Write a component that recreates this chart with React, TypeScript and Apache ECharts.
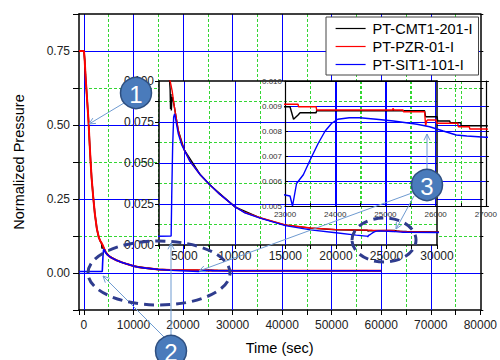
import React, { useEffect, useRef } from 'react';
import * as echarts from 'echarts';

// ---------- data (time in s, normalized pressure) ----------
const cmtT = [-1000, 0, 150, 300, 500, 700, 930, 1100, 1330, 1550, 1850, 2200, 2600, 3000, 3300, 3550, 3600, 3640, 3680, 3720, 3780, 3850, 4000, 4400, 5000, 6560, 7550, 10000, 12500, 15000, 17500, 20000, 23000, 23100, 23170, 23260, 23300, 23620, 23630, 25780, 25800, 26030, 26040, 26280, 26290, 26500, 26510, 27000, 30000, 40000, 60000];
const cmtP = [0.75, 0.75, 0.72, 0.67, 0.62, 0.57, 0.51, 0.45, 0.38, 0.32, 0.26, 0.2, 0.15, 0.12, 0.108, 0.1, 0.095, 0.083, 0.092, 0.082, 0.09, 0.09, 0.085, 0.07, 0.058, 0.043, 0.0366, 0.0233, 0.0165, 0.0121, 0.0103, 0.0093, 0.00897, 0.00897, 0.00847, 0.00864, 0.00873, 0.00873, 0.00881, 0.00881, 0.00857, 0.00857, 0.0084, 0.0084, 0.00833, 0.00833, 0.00821, 0.00821, 0.0079, 0.0078, 0.0078];

const pzrT = [-1000, 0, 150, 300, 500, 700, 930, 1100, 1330, 1550, 1850, 2200, 2600, 3000, 3300, 3600, 3800, 4000, 4400, 4750, 5000, 5570, 6560, 7550, 8500, 10000, 11000, 12500, 15000, 17500, 20000, 23000, 23260, 23270, 23620, 23630, 25140, 25150, 25170, 25350, 25360, 25780, 25800, 25820, 25840, 26010, 26020, 26440, 26450, 26670, 26680, 27000, 30000, 40000, 60000];
const pzrP = [0.75, 0.75, 0.72, 0.67, 0.62, 0.57, 0.51, 0.45, 0.38, 0.32, 0.26, 0.2, 0.15, 0.12, 0.108, 0.1, 0.094, 0.085, 0.07, 0.062, 0.058, 0.051, 0.043, 0.0366, 0.031, 0.0234, 0.0198, 0.0166, 0.0122, 0.0104, 0.0094, 0.00907, 0.00907, 0.00897, 0.00897, 0.00884, 0.00884, 0.0089, 0.00884, 0.00884, 0.00877, 0.00877, 0.0082, 0.0084, 0.00844, 0.00844, 0.00831, 0.00831, 0.00817, 0.00817, 0.00808, 0.00808, 0.0078, 0.0077, 0.0077];

const sitT = [-1000, 3700, 3760, 3850, 3950, 4050, 4400, 4750, 5000, 5570, 6560, 7550, 8500, 10000, 11000, 12500, 15000, 17500, 20000, 22000, 23000, 23100, 23150, 23230, 23365, 23500, 23660, 23800, 23930, 24050, 24280, 24490, 24820, 25160, 25630, 25880, 26150, 26410, 26620, 27000, 30000, 40000, 60000];
const sitP = [0.005, 0.0055, 0.03, 0.06, 0.078, 0.08, 0.068, 0.061, 0.058, 0.051, 0.043, 0.0366, 0.031, 0.0234, 0.0196, 0.0164, 0.0118, 0.0092, 0.0075, 0.006, 0.00544, 0.0054, 0.005, 0.0059, 0.00625, 0.00684, 0.0075, 0.008, 0.00831, 0.00847, 0.00853, 0.00853, 0.00847, 0.0084, 0.00827, 0.00817, 0.008, 0.00784, 0.0078, 0.00775, 0.0076, 0.0075, 0.0075];

const seriesNames = ['PT-CMT1-201-I', 'PT-PZR-01-I', 'PT-SIT1-101-I'];
const seriesColors = ['#000000', '#ff0000', '#0000ff'];

// tick labels
const mainXLabels = [0, 10000, 20000, 30000, 40000, 50000, 60000, 70000, 80000];
const mainYLabels = [0, 0.25, 0.5, 0.75];
const in1XLabels = [5000, 10000, 15000, 20000, 25000, 30000];
const in1YLabels = [0, 0.025, 0.05, 0.075, 0.1];
const in2XLabels = [23000, 24000, 25000, 26000, 27000];
const in2YLabels = [0.005, 0.006, 0.007, 0.008, 0.009, 0.01];

const FONT = 'Liberation Sans, Arial, Helvetica, sans-serif';
const T = 'rgba(0,0,0,0)';
const GREEN = '#33d633';
const BLUE = '#0000ff';

const range = (a: number, b: number, s: number) => {
  const out: number[] = [];
  const n = Math.round((b - a) / s);
  for (let i = 0; i <= n; i++) out.push(+(a + i * s).toFixed(6));
  return out;
};
const isMult = (v: number, m: number) => Math.abs(v / m - Math.round(v / m)) < 1e-6;
const inList = (list: number[], v: number) => list.some((l) => Math.abs(l - v) < 1e-9);
const colorsFor = (ticks: number[], pred: (v: number) => boolean, c: string) => ticks.map((v) => (pred(v) ? c : T));

const mainXTicks = [-1000, ...range(0, 80000, 5000)];
const mainYTicks = range(-0.125, 0.875, 0.125);
const in1XTicks = range(2500, 30000, 2500);
const in1YTicks = range(0, 0.1, 0.0125);
const in2XTicks = range(23000, 27000, 500);
const in2YTicks = range(0.005, 0.01, 0.001);

const zip = (t: number[], p: number[]) => t.map((x, i) => [x, p[i]]);
const seriesData = [zip(cmtT, cmtP), zip(pzrT, pzrP), zip(sitT, sitP)];

const black = { color: '#000', width: 1.5 };
const noLine = { show: false };

function buildOption() {
  const xAxis: any[] = [
    // main
    {
      type: 'value', gridIndex: 0, position: 'bottom', min: -1000, max: 80000, splitNumber: 16, z: 0,
      axisLine: { show: true, onZero: false, lineStyle: black },
      axisTick: { show: true, length: 5, lineStyle: { color: '#000' } },
      axisLabel: { margin: 9, fontSize: 12, color: '#222', fontFamily: FONT, formatter: (v: number) => (inList(mainXLabels, v) ? String(v) : '') },
      splitLine: { show: true, lineStyle: { color: colorsFor(mainXTicks, (v) => v > 0 && !isMult(v, 10000), GREEN), type: [3, 2], width: 1 } },
      name: 'Time (sec)', nameLocation: 'middle', nameGap: 30,
      nameTextStyle: { fontSize: 14.5, color: '#000', fontFamily: FONT },
    },
    {
      type: 'value', gridIndex: 0, position: 'top', min: -1000, max: 80000, splitNumber: 16, z: 1,
      axisLine: { show: true, onZero: false, lineStyle: black },
      axisTick: { show: false }, axisLabel: { show: false },
      splitLine: { show: true, lineStyle: { color: colorsFor(mainXTicks, (v) => v >= 0 && v < 80000 && isMult(v, 10000), BLUE), width: 1 } },
    },
    // inset 1
    {
      type: 'value', gridIndex: 1, position: 'bottom', min: 2500, max: 30000, interval: 2500, z: 4,
      axisLine: { show: true, onZero: false, lineStyle: black },
      axisTick: { show: true, length: 4, lineStyle: { color: '#000' } },
      axisLabel: { margin: 5, fontSize: 12, color: '#222', fontFamily: FONT, formatter: (v: number) => (inList(in1XLabels, v) ? String(v) : '') },
      splitLine: { show: true, lineStyle: { color: colorsFor(in1XTicks, (v) => v > 2500 && !isMult(v, 5000), GREEN), type: [3, 2], width: 1 } },
    },
    {
      type: 'value', gridIndex: 1, position: 'top', min: 2500, max: 30000, interval: 2500, z: 5,
      axisLine: { show: true, onZero: false, lineStyle: black },
      axisTick: { show: false }, axisLabel: { show: false },
      splitLine: { show: true, lineStyle: { color: colorsFor(in1XTicks, (v) => v < 30000 && isMult(v, 5000), BLUE), width: 1 } },
    },
    // inset 2
    {
      type: 'value', gridIndex: 2, position: 'bottom', min: 23000, max: 27000, interval: 500, z: 7,
      axisLine: { show: true, onZero: false, lineStyle: { color: '#000', width: 1.2 } },
      axisTick: { show: true, inside: true, length: 3, lineStyle: { color: '#000' } },
      axisLabel: { margin: 4, fontSize: 8, color: '#333', fontFamily: FONT, formatter: (v: number) => (inList(in2XLabels, v) ? String(v) : '') },
      splitLine: { show: true, lineStyle: { color: colorsFor(in2XTicks, (v) => !isMult(v, 1000), GREEN), type: [3, 2], width: 1 } },
    },
    {
      type: 'value', gridIndex: 2, position: 'top', min: 23000, max: 27000, interval: 500, z: 8,
      axisLine: { show: true, onZero: false, lineStyle: { color: '#000', width: 1.2 } },
      axisTick: { show: false }, axisLabel: { show: false },
      splitLine: { show: true, lineStyle: { color: colorsFor(in2XTicks, (v) => v > 23000 && v < 27000 && isMult(v, 1000), BLUE), width: 1 } },
    },
  ];

  const yAxis: any[] = [
    {
      type: 'value', gridIndex: 0, position: 'left', min: -0.125, max: 0.875, interval: 0.125, z: 0,
      axisLine: { show: true, onZero: false, lineStyle: black },
      axisTick: { show: true, length: 6, lineStyle: { color: '#000' } },
      axisLabel: { margin: 9, fontSize: 12, color: '#222', fontFamily: FONT, formatter: (v: number) => (inList(mainYLabels, v) ? v.toFixed(2) : '') },
      splitLine: { show: true, lineStyle: { color: colorsFor(mainYTicks, (v) => v > -0.1 && v < 0.8 && !isMult(v, 0.25), GREEN), type: [3, 2], width: 1 } },
      name: 'Normalized Pressure', nameLocation: 'middle', nameGap: 53,
      nameTextStyle: { fontSize: 14.5, color: '#000', fontFamily: FONT },
    },
    {
      type: 'value', gridIndex: 0, position: 'right', min: -0.125, max: 0.875, interval: 0.125, z: 1,
      axisLine: { show: true, onZero: false, lineStyle: black },
      axisTick: { show: true, length: 3, lineStyle: { color: '#000' } }, axisLabel: { show: false },
      splitLine: { show: true, lineStyle: { color: colorsFor(mainYTicks, (v) => isMult(v, 0.25), BLUE), width: 1 } },
    },
    {
      type: 'value', gridIndex: 1, position: 'left', min: 0, max: 0.1, interval: 0.0125, z: 4,
      axisLine: { show: true, onZero: false, lineStyle: black },
      axisTick: { show: true, length: 4, lineStyle: { color: '#000' } },
      axisLabel: { margin: 5, fontSize: 12, color: '#222', fontFamily: FONT, formatter: (v: number) => (inList(in1YLabels, +v.toFixed(6)) ? v.toFixed(3) : '') },
      splitLine: { show: true, lineStyle: { color: colorsFor(in1YTicks, (v) => !isMult(v, 0.025), GREEN), type: [3, 2], width: 1 } },
    },
    {
      type: 'value', gridIndex: 1, position: 'right', min: 0, max: 0.1, interval: 0.0125, z: 5,
      axisLine: { show: true, onZero: false, lineStyle: black },
      axisTick: { show: false }, axisLabel: { show: false },
      splitLine: { show: true, lineStyle: { color: colorsFor(in1YTicks, (v) => v > 0.001 && v < 0.099 && isMult(v, 0.025), BLUE), width: 1 } },
    },
    {
      type: 'value', gridIndex: 2, position: 'left', min: 0.005, max: 0.01, interval: 0.001, z: 8,
      axisLine: { show: true, onZero: false, lineStyle: { color: '#000', width: 1.2 } },
      axisTick: { show: true, inside: true, length: 3, lineStyle: { color: '#000' } },
      axisLabel: { margin: 3, fontSize: 8, color: '#333', fontFamily: FONT, formatter: (v: number) => (inList(in2YLabels, +v.toFixed(6)) ? v.toFixed(3) : '') },
      splitLine: { show: true, lineStyle: { color: colorsFor(in2YTicks, (v) => v > 0.0051 && v < 0.0099, BLUE), width: 1 } },
    },
    {
      type: 'value', gridIndex: 2, position: 'right', min: 0.005, max: 0.01, interval: 0.001, z: 8,
      axisLine: { show: true, onZero: false, lineStyle: { color: '#000', width: 1.2 } },
      axisTick: { show: true, length: 3, lineStyle: { color: '#000' } }, axisLabel: { show: false },
      splitLine: noLine,
    },
  ];

  const seriesZ = [2, 6, 9];
  const widths = [1.6, 1.4, 1.4];
  const series: any[] = [];
  for (let g = 0; g < 3; g++) {
    for (let s = 0; s < 3; s++) {
      series.push({
        type: 'line', name: seriesNames[s], data: seriesData[s],
        xAxisIndex: g * 2, yAxisIndex: g * 2, symbol: 'none', showSymbol: false,
        lineStyle: { color: seriesColors[s], width: g === 0 && s === 1 ? 2 : widths[g] },
        itemStyle: { color: seriesColors[s] },
        z: seriesZ[g], clip: true, silent: true,
      });
    }
  }

  const ARROW = '#6f9bd1';
  const arrow = (x1: number, y1: number, x2: number, y2: number) => {
    const ang = Math.atan2(y2 - y1, x2 - x1);
    const L = 7, a = 0.45;
    const p1 = [x2 - L * Math.cos(ang - a), y2 - L * Math.sin(ang - a)];
    const p2 = [x2 - L * Math.cos(ang + a), y2 - L * Math.sin(ang + a)];
    return [
      { type: 'line', z: 11, silent: true, shape: { x1, y1, x2, y2 }, style: { stroke: ARROW, lineWidth: 1 } },
      { type: 'polyline', z: 11, silent: true, shape: { points: [p1, [x2, y2], p2] }, style: { stroke: ARROW, fill: 'none', lineWidth: 1 } },
    ];
  };
  const badge = (cx: number, cy: number, label: string) => [
    { type: 'circle', z: 13, silent: true, shape: { cx, cy, r: 15.5 }, style: { fill: '#4a7bbb', stroke: '#2e4f80', lineWidth: 1.5 } },
    {
      type: 'text', z: 14, silent: true, x: cx, y: cy + 1,
      style: { text: label, fill: '#ffffff', fontSize: 24, fontFamily: FONT, align: 'center', verticalAlign: 'middle', textAlign: 'center', textVerticalAlign: 'middle' },
    },
  ];
  const ell = (cx: number, cy: number, rx: number, ry: number) => ({
    type: 'ellipse', z: 12, silent: true, shape: { cx, cy, rx, ry },
    style: { fill: 'none', stroke: '#2f3c8e', lineWidth: 3, lineDash: [10, 6] },
  });

  const graphic = [
    ell(159, 273, 71, 32),
    ell(384, 240, 32, 22),
    ...arrow(124, 103, 89, 124),
    ...arrow(164, 337, 103, 276),
    ...arrow(171, 335, 171, 243),
    ...arrow(427, 169, 427, 134),
    ...arrow(414, 196, 396, 229),
    ...arrow(412, 193, 199, 271),
    ...badge(136, 93, '1'),
    ...badge(171, 351, '2'),
    ...badge(427, 185, '3'),
  ];

  return {
    animation: false,
    backgroundColor: '#fff',
    grid: [
      { left: 79, right: 13, top: 14, bottom: 48, show: false, z: 0 },
      { left: 159, right: 63, top: 81, bottom: 115, show: true, backgroundColor: '#fff', borderWidth: 0, z: 3 },
      { left: 285, right: 14, top: 81, bottom: 154, show: false, z: 7 },
    ],
    legend: {
      show: true, data: seriesNames, orient: 'vertical', left: 326, top: 17,
      padding: [4, 6, 3, 9], itemWidth: 30, itemHeight: 14, itemGap: 3,
      backgroundColor: '#fff', borderColor: '#444', borderWidth: 1, z: 10,
      selectedMode: false, lineStyle: { width: 1.2 }, itemStyle: { opacity: 0 },
      textStyle: { fontSize: 14.5, color: '#000', fontFamily: FONT, padding: [0, 0, 0, 2] },
    },
    xAxis, yAxis, series, graphic,
  };
}

export default function App() {
  const ref = useRef<HTMLDivElement>(null);
  useEffect(() => {
    if (!ref.current) return;
    const chart = echarts.init(ref.current, null, { renderer: 'svg' });
    chart.setOption(buildOption() as any);
    return () => chart.dispose();
  }, []);
  return <div ref={ref} style={{ position: 'fixed', left: 0, top: 0, width: 500, height: 360, background: '#fff' }} />;
}
